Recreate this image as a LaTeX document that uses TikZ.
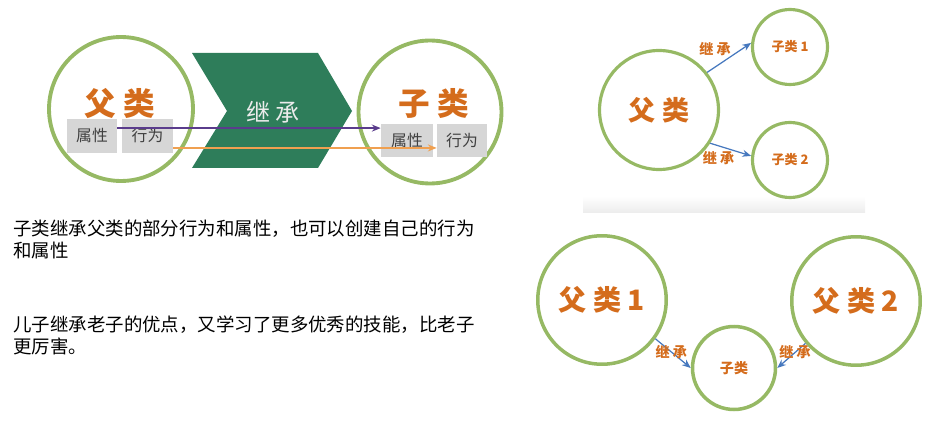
\documentclass[tikz,border=0pt]{standalone}
\usepackage{fontspec}
\setmainfont{Noto Sans CJK SC}
\usepackage{tikz}
\usetikzlibrary{arrows.meta}

\definecolor{ringgreen}{RGB}{150,185,100}
\definecolor{chevrongreen}{RGB}{46,125,90}
\definecolor{titleorange}{RGB}{212,108,28}
\definecolor{linkblue}{RGB}{70,120,190}
\definecolor{attrpurple}{RGB}{90,60,140}
\definecolor{behorange}{RGB}{240,160,80}
\definecolor{boxgray}{RGB}{214,214,214}

\begin{document}
\begin{tikzpicture}[x=0.02cm, y=-0.02cm,
    bigring/.style={circle, draw=ringgreen, line width=2.2pt, inner sep=0pt},
    smallring/.style={circle, draw=ringgreen, line width=1.8pt, inner sep=0pt},
    member/.style={fill=boxgray, text=black!75, inner sep=0pt,
        font=\fontsize{9pt}{10pt}\selectfont},
    bigtitle/.style={text=titleorange, font=\fontsize{18pt}{20pt}\selectfont\bfseries},
    lbl/.style={text=titleorange, inner sep=0pt, font=\fontsize{8pt}{9pt}\selectfont\bfseries},
    inh/.style={draw=linkblue, line width=0.7pt, -{Stealth[length=5pt, width=4pt]}},
    note/.style={anchor=west, align=left, inner sep=0pt,
        font=\fontsize{10.5pt}{12.5pt}\selectfont}]
    \useasboundingbox (0,0) rectangle (927,439);

    \node[bigring, minimum size=2.88cm] (parent) at (121,109) {};
    \node[bigring, minimum size=2.86cm] (child) at (430,112) {};
    \fill[chevrongreen] (192,53) -- (318,53) -- (352,111) -- (318,168)
        -- (192,168) -- (227,111) -- cycle;
    \node[text=black!8, font=\fontsize{13.7pt}{15pt}\selectfont] (verb) at (273,112) {继 承};
    \node[bigtitle] (ptitle) at (120,103) {父 类};
    \node[bigtitle] (ctitle) at (434,103) {子 类};
    \node[member, minimum width=1cm, minimum height=0.68cm] (pa) at (92,136) {属性};
    \node[member, minimum width=1.02cm, minimum height=0.68cm] (pb) at (147.5,136) {行为};
    \node[member, minimum width=1.04cm, minimum height=0.66cm] (ca) at (407,140.5) {属性};
    \node[member, minimum width=1cm, minimum height=0.66cm] (cb) at (462,140.5) {行为};
    \draw[attrpurple, line width=0.9pt, -{Stealth[length=5pt, width=4pt]}]
        ([yshift=4.5pt]pa.east) -- ([yshift=4.5pt]pa.east -| ca.west);
    \draw[behorange, line width=0.9pt, -{Stealth[length=5pt, width=4pt]}]
        ([yshift=-6.8pt]pb.east) -- ([yshift=-6.8pt]pb.east -| cb.west);

    \node[note] (note1) at (13,239) {子类继承父类的部分行为和属性，也可以创建自己的行为\\和属性};
    \node[note] (note2) at (13,335) {儿子继承老子的优点，又学习了更多优秀的技能，比老子\\更厉害。};

    \shade[top color=white, bottom color=black!7] (583,196) rectangle (865,212);
    \node[smallring, minimum size=2.38cm, text=titleorange,
        font=\fontsize{15.4pt}{17pt}\selectfont\bfseries] (fu) at (659,110) {父 类};
    \node[smallring, minimum size=1.5cm, text=titleorange,
        font=\fontsize{7.4pt}{8pt}\selectfont\bfseries] (zi1) at (790,47) {子类 1};
    \node[smallring, minimum size=1.5cm, text=titleorange,
        font=\fontsize{7.4pt}{8pt}\selectfont\bfseries] (zi2) at (790,160) {子类 2};
    \draw[inh] (fu.38) -- node[lbl, pos=0.55, above left] {继 承} (zi1.174);
    \draw[inh] (fu.-33) -- node[lbl, pos=0.6, below left] {继 承} (zi2.174);

    \node[bigring, line width=2pt, minimum size=2.57cm, text=titleorange,
        font=\fontsize{16pt}{18pt}\selectfont\bfseries] (fu1) at (602,300) {父 类 1};
    \node[bigring, line width=2pt, minimum size=2.57cm, text=titleorange,
        font=\fontsize{16pt}{18pt}\selectfont\bfseries] (fu2) at (856,301) {父 类 2};
    \node[bigring, line width=2pt, minimum size=1.66cm, text=titleorange,
        font=\fontsize{8pt}{9pt}\selectfont\bfseries] (zi) at (734,368) {子类};
    \draw[inh] (fu1.-36) -- node[lbl, pos=0.45] {继 承} (zi.180);
    \draw[inh] (fu2.220) -- node[lbl, pos=0.37] {继 承} (zi.0);
\end{tikzpicture}
\end{document}
